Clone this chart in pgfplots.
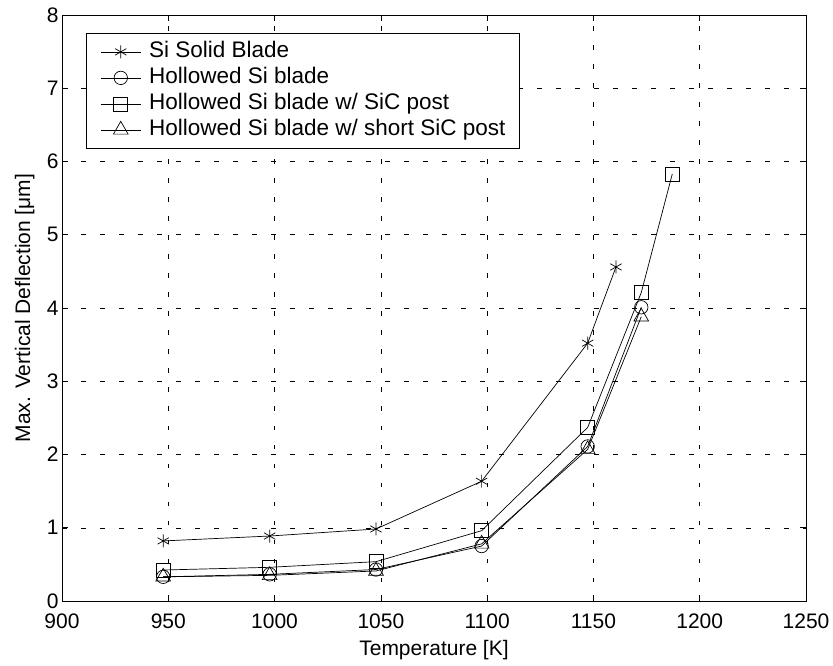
\documentclass[border=0pt]{standalone}
\usepackage{fontspec}
\setmainfont{Liberation Sans}
\usepackage{pgfplots}
\pgfplotsset{compat=1.18}
\begin{document}
\begin{tikzpicture}
\begin{axis}[
  scale only axis,
  width=744bp, height=586bp,
  xmin=900, xmax=1250, ymin=0, ymax=8,
  xtick={900,950,1000,1050,1100,1150,1200,1250},
  ytick={0,1,2,3,4,5,6,7,8},
  /pgf/number format/assume math mode=true,
  /pgf/number format/1000 sep={},
  tick label style={font=\fontsize{21bp}{25bp}\selectfont, black},
  xticklabel style={anchor=base, yshift=-27bp},
  every axis x label/.style={at={(axis description cs:0.5,-0.0922)}, anchor=base, font=\fontsize{21bp}{25bp}\selectfont},
  every axis y label/.style={at={(axis description cs:-0.0430,0.5)}, rotate=90, anchor=base, font=\fontsize{21bp}{25bp}\selectfont},
  xlabel={Temperature [K]},
  ylabel={Max. Vertical Deflection [μm]},
  tick align=inside,
  major tick length=6bp,
  tick style={black, line width=0.6bp},
  axis line style={black, line width=0.8bp},
  grid=major,
  major grid style={black, line width=0.5bp, dash pattern=on 4.5bp off 14.5bp},
  legend image code/.code={\draw[mark repeat=2,mark phase=2,#1] plot coordinates {(0bp,0bp) (20bp,0bp) (40bp,0bp)};},
  legend style={at={(axis description cs:0.0323,0.9693)}, anchor=north west,
    draw=black, line width=0.8bp, fill=white,
    inner xsep=14bp, inner ysep=9bp, row sep=7bp, column sep=8bp,
    font=\fontsize{22.5bp}{27bp}\selectfont,
    nodes={inner sep=0pt, text height=15bp, text depth=4bp}},
  legend cell align=left,
]
\addplot[black, line width=0.7bp, mark=asterisk, mark size=6.5bp, mark options={solid, line width=0.7bp}]
  coordinates {(947.6,0.82) (997.7,0.887) (1047.7,0.983) (1097.4,1.635) (1147.3,3.52) (1160.6,4.56)};
\addlegendentry{Si Solid Blade}
\addplot[black, line width=0.7bp, mark=o, mark size=6.7bp, mark options={solid, line width=0.7bp}]
  coordinates {(947.6,0.33) (997.7,0.364) (1047.7,0.43) (1097.4,0.75) (1147.3,2.11) (1172.5,4.01)};
\addlegendentry{Hollowed Si blade}
\addplot[black, line width=0.7bp, mark=square, mark size=7bp, mark options={solid, line width=0.7bp}]
  coordinates {(947.6,0.423) (997.7,0.46) (1047.7,0.537) (1097.4,0.96) (1147.3,2.37) (1172.5,4.21) (1187.1,5.83)};
\addlegendentry{Hollowed Si blade w/ SiC post}
\addplot[black, line width=0.7bp, mark=triangle, mark size=8.5bp, mark options={solid, line width=0.7bp}]
  coordinates {(947.6,0.33) (997.7,0.35) (1047.7,0.41) (1097.4,0.78) (1147.3,2.07) (1172.5,3.88)};
\addlegendentry{Hollowed Si blade w/ short SiC post}
\coordinate (SW) at (rel axis cs:0,0);
\coordinate (NE) at (rel axis cs:1,1);
\end{axis}
\pgfresetboundingbox
\path ([shift={(-62bp,-65bp)}]SW) rectangle ([shift={(27bp,15bp)}]NE);
\end{tikzpicture}
\end{document}
